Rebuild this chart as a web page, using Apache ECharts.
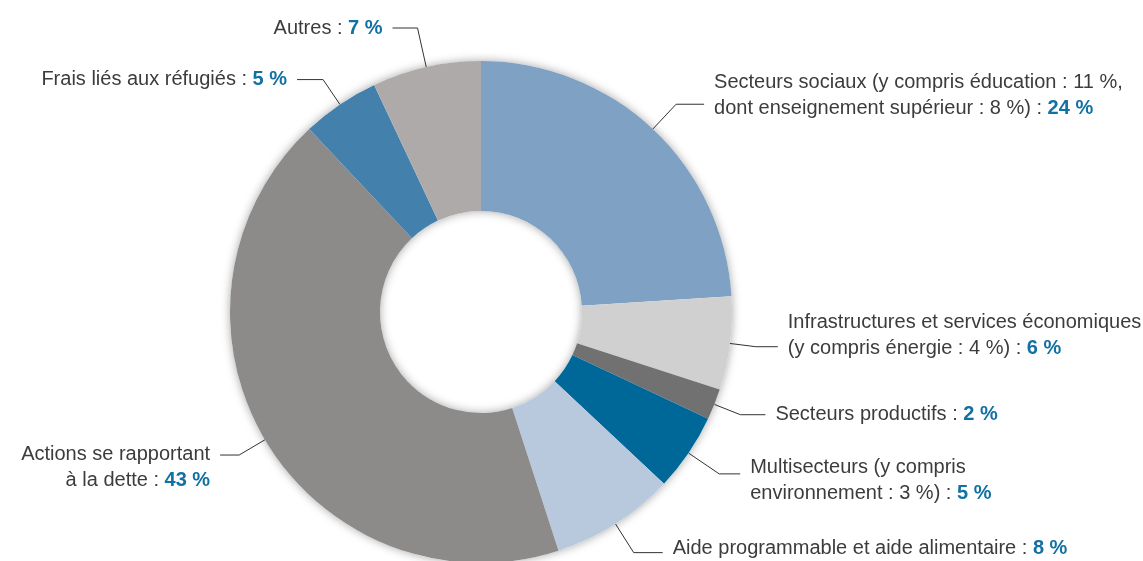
<!DOCTYPE html>
<html><head><meta charset="utf-8">
<script src="https://cdn.jsdelivr.net/npm/echarts@6/dist/echarts.min.js"></script>
<style>html,body{margin:0;padding:0;background:#fff}#c{width:1143px;height:561px}</style>
</head><body><div id="c"></div>
<script>
const categories = [
  'Secteurs sociaux (y compris éducation : 11 %,\ndont enseignement supérieur : 8 %)',
  'Infrastructures et services économiques\n(y compris énergie : 4 %)',
  'Secteurs productifs',
  'Multisecteurs (y compris\nenvironnement : 3 %)',
  'Aide programmable et aide alimentaire',
  'Actions se rapportant\nà la dette',
  'Frais liés aux réfugiés',
  'Autres'
];
const values = [24, 6, 2, 5, 8, 43, 5, 7];

// styles (kept apart from the data)
const colors = ['#7fa1c4', '#d1d0d1', '#717171', '#006899', '#b9c9dd', '#8c8b8a', '#4480ac', '#aeaaa9'];
const lineLengths = [34, 26, 28, 37, 34, 30, 30, 40];
const lineLengths2 = [28, 22, 25, 21, 29, 19, 26, 25];
const labelPads = [[0,0,18,0], [0,0,22,0], [0,0,0,0], [14,0,0,0], [0,0,8,0], [24,0,0,0], [0,0,0,0], [0,0,0,0]];

const FONT = 'Liberation Sans';
const chart = echarts.init(document.getElementById('c'), null, {renderer: 'canvas'});

const data = categories.map((name, i) => ({
  name: name,
  value: values[i],
  itemStyle: {color: colors[i]},
  label: {padding: labelPads[i]},
  labelLine: {length: lineLengths[i], length2: lineLengths2[i]}
}));

chart.setOption({
  animation: false,
  backgroundColor: '#ffffff',
  series: [
    {
      type: 'pie',
      silent: true,
      center: [481, 312],
      radius: [101, 251],
      label: {show: false},
      labelLine: {show: false},
      data: [{value: 1, itemStyle: {color: '#ffffff', shadowBlur: 10, shadowColor: 'rgba(0,0,0,0.35)'}}],
      z: 1
    },
    {
      type: 'pie',
      center: [481, 312],
      radius: [101, 251],
      startAngle: 90,
      clockwise: true,
      avoidLabelOverlap: false,
      z: 2,
      label: {
        show: true,
        position: 'outside',
        alignTo: 'none',
        bleedMargin: 0,
        distanceToLabelLine: 10,
        overflow: 'none',
        formatter: function (p) {
          const lines = p.name.split('\n');
          const last = lines.length - 1;
          return lines.map((l, i) => i === last ? '{t|' + l + ' : }{v|' + p.value + ' %}' : '{t|' + l + '}').join('\n');
        },
        rich: {
          t: {fontFamily: FONT, fontSize: 20, color: '#3c3c3c', lineHeight: 26},
          v: {fontFamily: FONT, fontSize: 20, color: '#1170a4', fontWeight: 'bold', lineHeight: 26}
        }
      },
      labelLine: {
        show: true,
        length: 30,
        length2: 22,
        smooth: false,
        lineStyle: {color: '#333333', width: 1}
      },
      data: data
    }
  ]
});
</script></body></html>
